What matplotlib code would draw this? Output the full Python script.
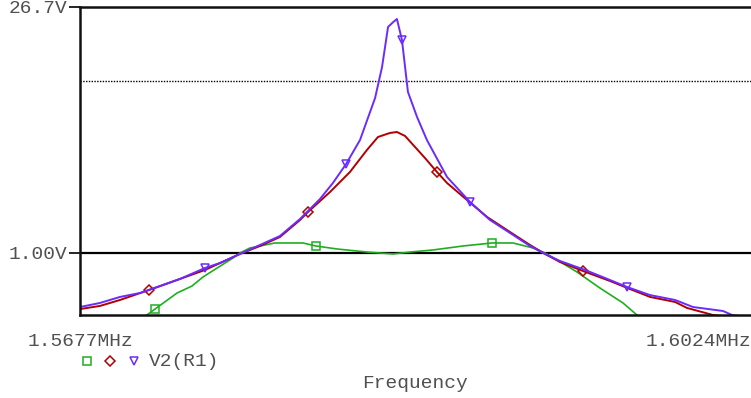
import matplotlib
matplotlib.use("Agg")
import matplotlib.pyplot as plt
from matplotlib.lines import Line2D

# Data (frequency in MHz, amplitude in V)
freq_purple = [1.56770, 1.56873, 1.56977, 1.57080, 1.57184, 1.57287, 1.57416, 1.57494,
               1.57597, 1.57701, 1.57804, 1.57908, 1.58011, 1.58078, 1.58146, 1.58218,
               1.58296, 1.58332, 1.58363, 1.58389, 1.58409, 1.58435, 1.58466, 1.58513,
               1.58564, 1.58668, 1.58787, 1.58890, 1.58994, 1.59097, 1.59175, 1.59252,
               1.59382, 1.59511, 1.59599, 1.59718, 1.59847, 1.59940, 1.60095, 1.60142,
               1.60240]
v_purple = [0.486, 0.513, 0.556, 0.586, 0.643, 0.707, 0.818, 0.875,
            0.987, 1.113, 1.255, 1.575, 2.056, 2.547, 3.28, 4.52,
            7.92, 11.98, 20.44, 21.8, 22.75, 17.18, 8.58, 6.147,
            4.52, 2.759, 1.976, 1.554, 1.306, 1.098, 0.987, 0.899,
            0.797, 0.697, 0.635, 0.570, 0.534, 0.486, 0.461, 0.437,
            0.420]

freq_red = [1.56770, 1.56873, 1.56977, 1.57127, 1.57287, 1.57416, 1.57597, 1.57701,
            1.57804, 1.57908, 1.57949, 1.58063, 1.58166, 1.58254, 1.58311, 1.58373,
            1.58409, 1.58451, 1.58554, 1.58616, 1.58668, 1.58771, 1.58875, 1.58994,
            1.59097, 1.59175, 1.59252, 1.59371, 1.59511, 1.59614, 1.59718, 1.59847,
            1.59909, 1.60043, 1.60240]
v_red = [0.473, 0.493, 0.534, 0.610, 0.707, 0.797, 0.987, 1.098,
         1.238, 1.554, 1.729, 2.258, 2.949, 3.959, 4.706, 4.967,
         5.03, 4.771, 3.555, 2.949, 2.547, 2.03, 1.618, 1.323,
         1.113, 0.987, 0.887, 0.786, 0.688, 0.618, 0.556, 0.520,
         0.480, 0.437, 0.409]

freq_green = [1.57080, 1.57116, 1.57158, 1.57272, 1.57349, 1.57406, 1.57561, 1.57597,
              1.57649, 1.57778, 1.57923, 1.57990, 1.58099, 1.58254, 1.58389, 1.58477,
              1.58595, 1.58751, 1.58901, 1.59009, 1.59113, 1.59175, 1.59237, 1.59340,
              1.59459, 1.59578, 1.59650, 1.59700]
v_green = [0.40, 0.437, 0.473, 0.586, 0.643, 0.726, 0.935, 1.0,
           1.069, 1.143, 1.143, 1.098, 1.055, 1.013, 0.987, 1.013,
           1.041, 1.098, 1.143, 1.143, 1.069, 1.0, 0.911, 0.776,
           0.626, 0.513, 0.437, 0.40]

# which points carry a symbol
marks_green = [2, 11, 18]
marks_red = [3, 10, 19, 27]
marks_purple = [6, 14, 21, 26, 34]

x_range = (1.5677, 1.6024)
y_range = (0.4398, 26.7)
x_tick_labels = ["1.5677MHz", "1.6024MHz"]
y_ticks = [1.0, 26.7]
y_tick_labels = ["1.00V", "26.7V"]
ref_level = 10.0

GREEN = "#1fae1f"
RED = "#b00000"
PURPLE = "#6a2bff"
TEXT = "#505050"
FONT = "Liberation Mono"
FS = 14

fig = plt.figure(figsize=(7.51, 3.98), dpi=100)
ax = fig.add_axes([80 / 751, (398 - 314.5) / 398, 671 / 751, 307.5 / 398])

mk = dict(markersize=5.5, markerfacecolor="none", markeredgewidth=1.1)
ax.plot(freq_green, v_green, color=GREEN, lw=1.2, marker="s",
        markevery=marks_green, markeredgecolor=GREEN, **mk)
ax.plot(freq_red, v_red, color=RED, lw=1.4, marker="D",
        markevery=marks_red, markeredgecolor=RED, **{**mk, "markersize": 4.8})
ax.plot(freq_purple, v_purple, color=PURPLE, lw=1.4, marker="v",
        markevery=marks_purple, markeredgecolor=PURPLE, **mk)

ax.set_yscale("log")
ax.set_xlim(*x_range)
ax.set_ylim(*y_range)

# reference lines
ax.axhline(1.0, color="black", lw=1.6, zorder=1)
ax.axhline(ref_level, color="black", lw=1.0, ls=(0, (1, 1)), zorder=1)

ax.spines["right"].set_visible(False)
for side in ["top", "left", "bottom"]:
    ax.spines[side].set_linewidth(1.8)
    ax.spines[side].set_color("#111111")

ax.yaxis.set_minor_locator(matplotlib.ticker.NullLocator())
ax.set_yticks(y_ticks)
ax.set_yticklabels(y_tick_labels, fontfamily=FONT, fontsize=FS, color=TEXT)
ax.tick_params(axis="y", length=8, width=1.2, pad=1)

ax.set_xticks(list(x_range))
ax.set_xticklabels(x_tick_labels, fontfamily=FONT, fontsize=FS, color=TEXT)
ax.tick_params(axis="x", length=0, pad=13)
ax.get_xticklabels()[-1].set_horizontalalignment("right")

# legend row
legend_items = [("s", GREEN, 87), ("D", RED, 110), ("v", PURPLE, 134)]
for m, c, px in legend_items:
    fig.add_artist(Line2D([px / 751], [1 - 361 / 398], transform=fig.transFigure,
                          marker=m, color=c, markerfacecolor="none",
                          markeredgewidth=1.1, markersize=4.8 if m == "D" else 5.5))
fig.text(149 / 751, 1 - 361 / 398, "V2(R1)", fontfamily=FONT, fontsize=FS,
         color=TEXT, va="center", ha="left")

fig.text(415 / 751, 1 - 383 / 398, "Frequency", fontfamily=FONT, fontsize=FS,
         color=TEXT, va="center", ha="center")

fig.savefig("out.png", dpi=100)
